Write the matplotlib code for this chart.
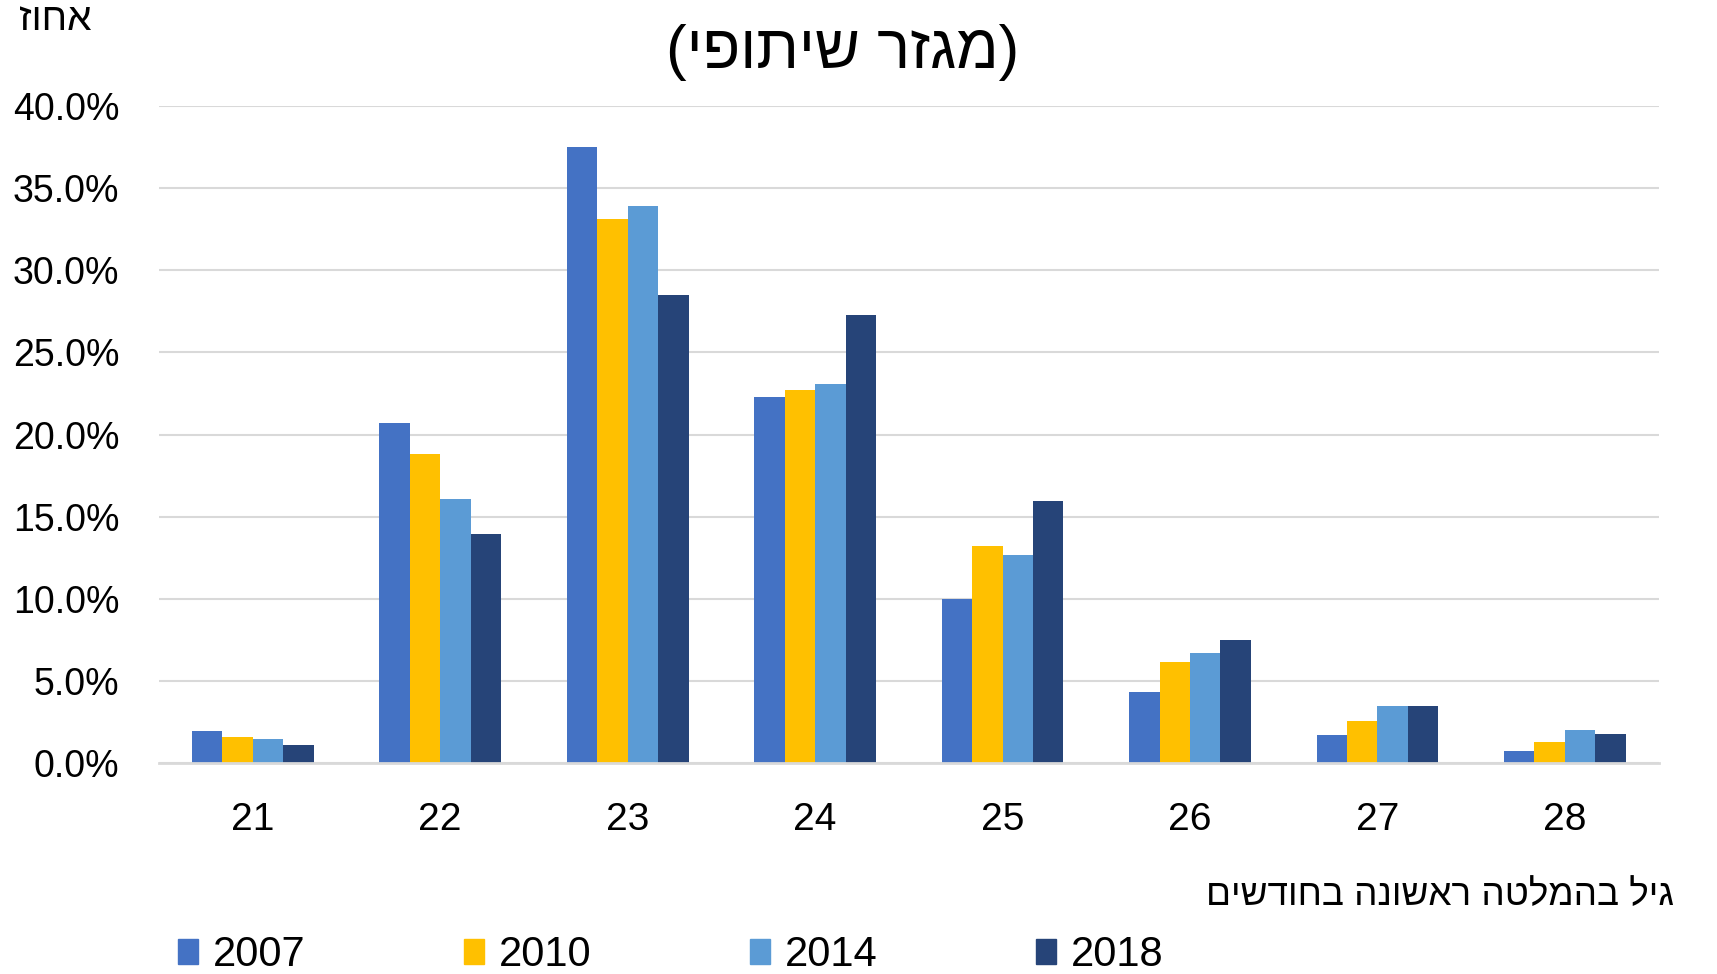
import numpy as np
import matplotlib
matplotlib.use("Agg")
import matplotlib.pyplot as plt
from matplotlib.patches import Patch

plt.rcParams['font.family'] = ['Liberation Sans', 'DejaVu Sans']

# Dados
ages = ['21', '22', '23', '24', '25', '26', '27', '28']
years = ['2007', '2010', '2014', '2018']
v2007 = [1.95, 20.7, 37.5, 22.3, 10.0, 4.35, 1.7, 0.75]
v2010 = [1.6, 18.8, 33.1, 22.7, 13.2, 6.15, 2.55, 1.3]
v2014 = [1.45, 16.1, 33.9, 23.1, 12.65, 6.7, 3.45, 2.0]
v2018 = [1.1, 13.95, 28.5, 27.3, 15.95, 7.5, 3.5, 1.75]
yticks = [0, 5, 10, 15, 20, 25, 30, 35, 40]

title = "(מגזר שיתופי)"
ylabel = "אחוז"
xlabel = "גיל בהמלטה ראשונה בחודשים"

colors = ['#4472C4', '#FFC000', '#5B9BD5', '#264478']


# matplotlib nao faz bidi: inverte o texto hebraico para a ordem visual
def heb(s):
    swap = {'(': ')', ')': '('}
    return ''.join(swap.get(c, c) for c in s[::-1])


fig = plt.figure(figsize=(17.17, 9.74), dpi=100)
ax = fig.add_axes([0.0926, 0.2166, 0.8734, 0.6746])

x = np.arange(len(ages))
w = 0.1625
series = [v2007, v2010, v2014, v2018]
for i, vals in enumerate(series):
    ax.bar(x + (i - 1.5) * w, vals, width=w, color=colors[i], zorder=3)

ax.set_xlim(-0.5, len(ages) - 0.5)
ax.set_ylim(0, 40)
ax.set_yticks(yticks)
ax.set_yticklabels([f"{t:.1f}%" for t in yticks], fontsize=27)
ax.set_xticks(x)
ax.set_xticklabels(ages, fontsize=28)
ax.tick_params(axis='both', length=0)
ax.tick_params(axis='y', pad=28.5)
ax.tick_params(axis='x', pad=28)

ax.grid(axis='y', color='#D9D9D9', linewidth=1.5, zorder=0)
for s in ['top', 'right', 'left']:
    ax.spines[s].set_visible(False)
ax.spines['bottom'].set_color('#D9D9D9')
ax.spines['bottom'].set_linewidth(2)
ax.spines['bottom'].set_zorder(4)

fig.text(0.491, 0.946, heb(title), fontsize=44.5, ha='center', va='center')
fig.text(0.011, 0.979, heb(ylabel), fontsize=28, ha='left', va='center')
fig.text(0.975, 0.0805, heb(xlabel), fontsize=26.6, ha='right', va='center')

handles = [Patch(color=c, label=y) for c, y in zip(colors, years)]
fig.legend(handles=handles, loc='center left', bbox_to_anchor=(0.1035, 0.019),
           ncol=4, frameon=False, fontsize=30, handlelength=0.48,
           handleheight=0.53, handletextpad=0.36, columnspacing=3.8,
           borderpad=0, borderaxespad=0)

fig.savefig('out.png', dpi=100)
